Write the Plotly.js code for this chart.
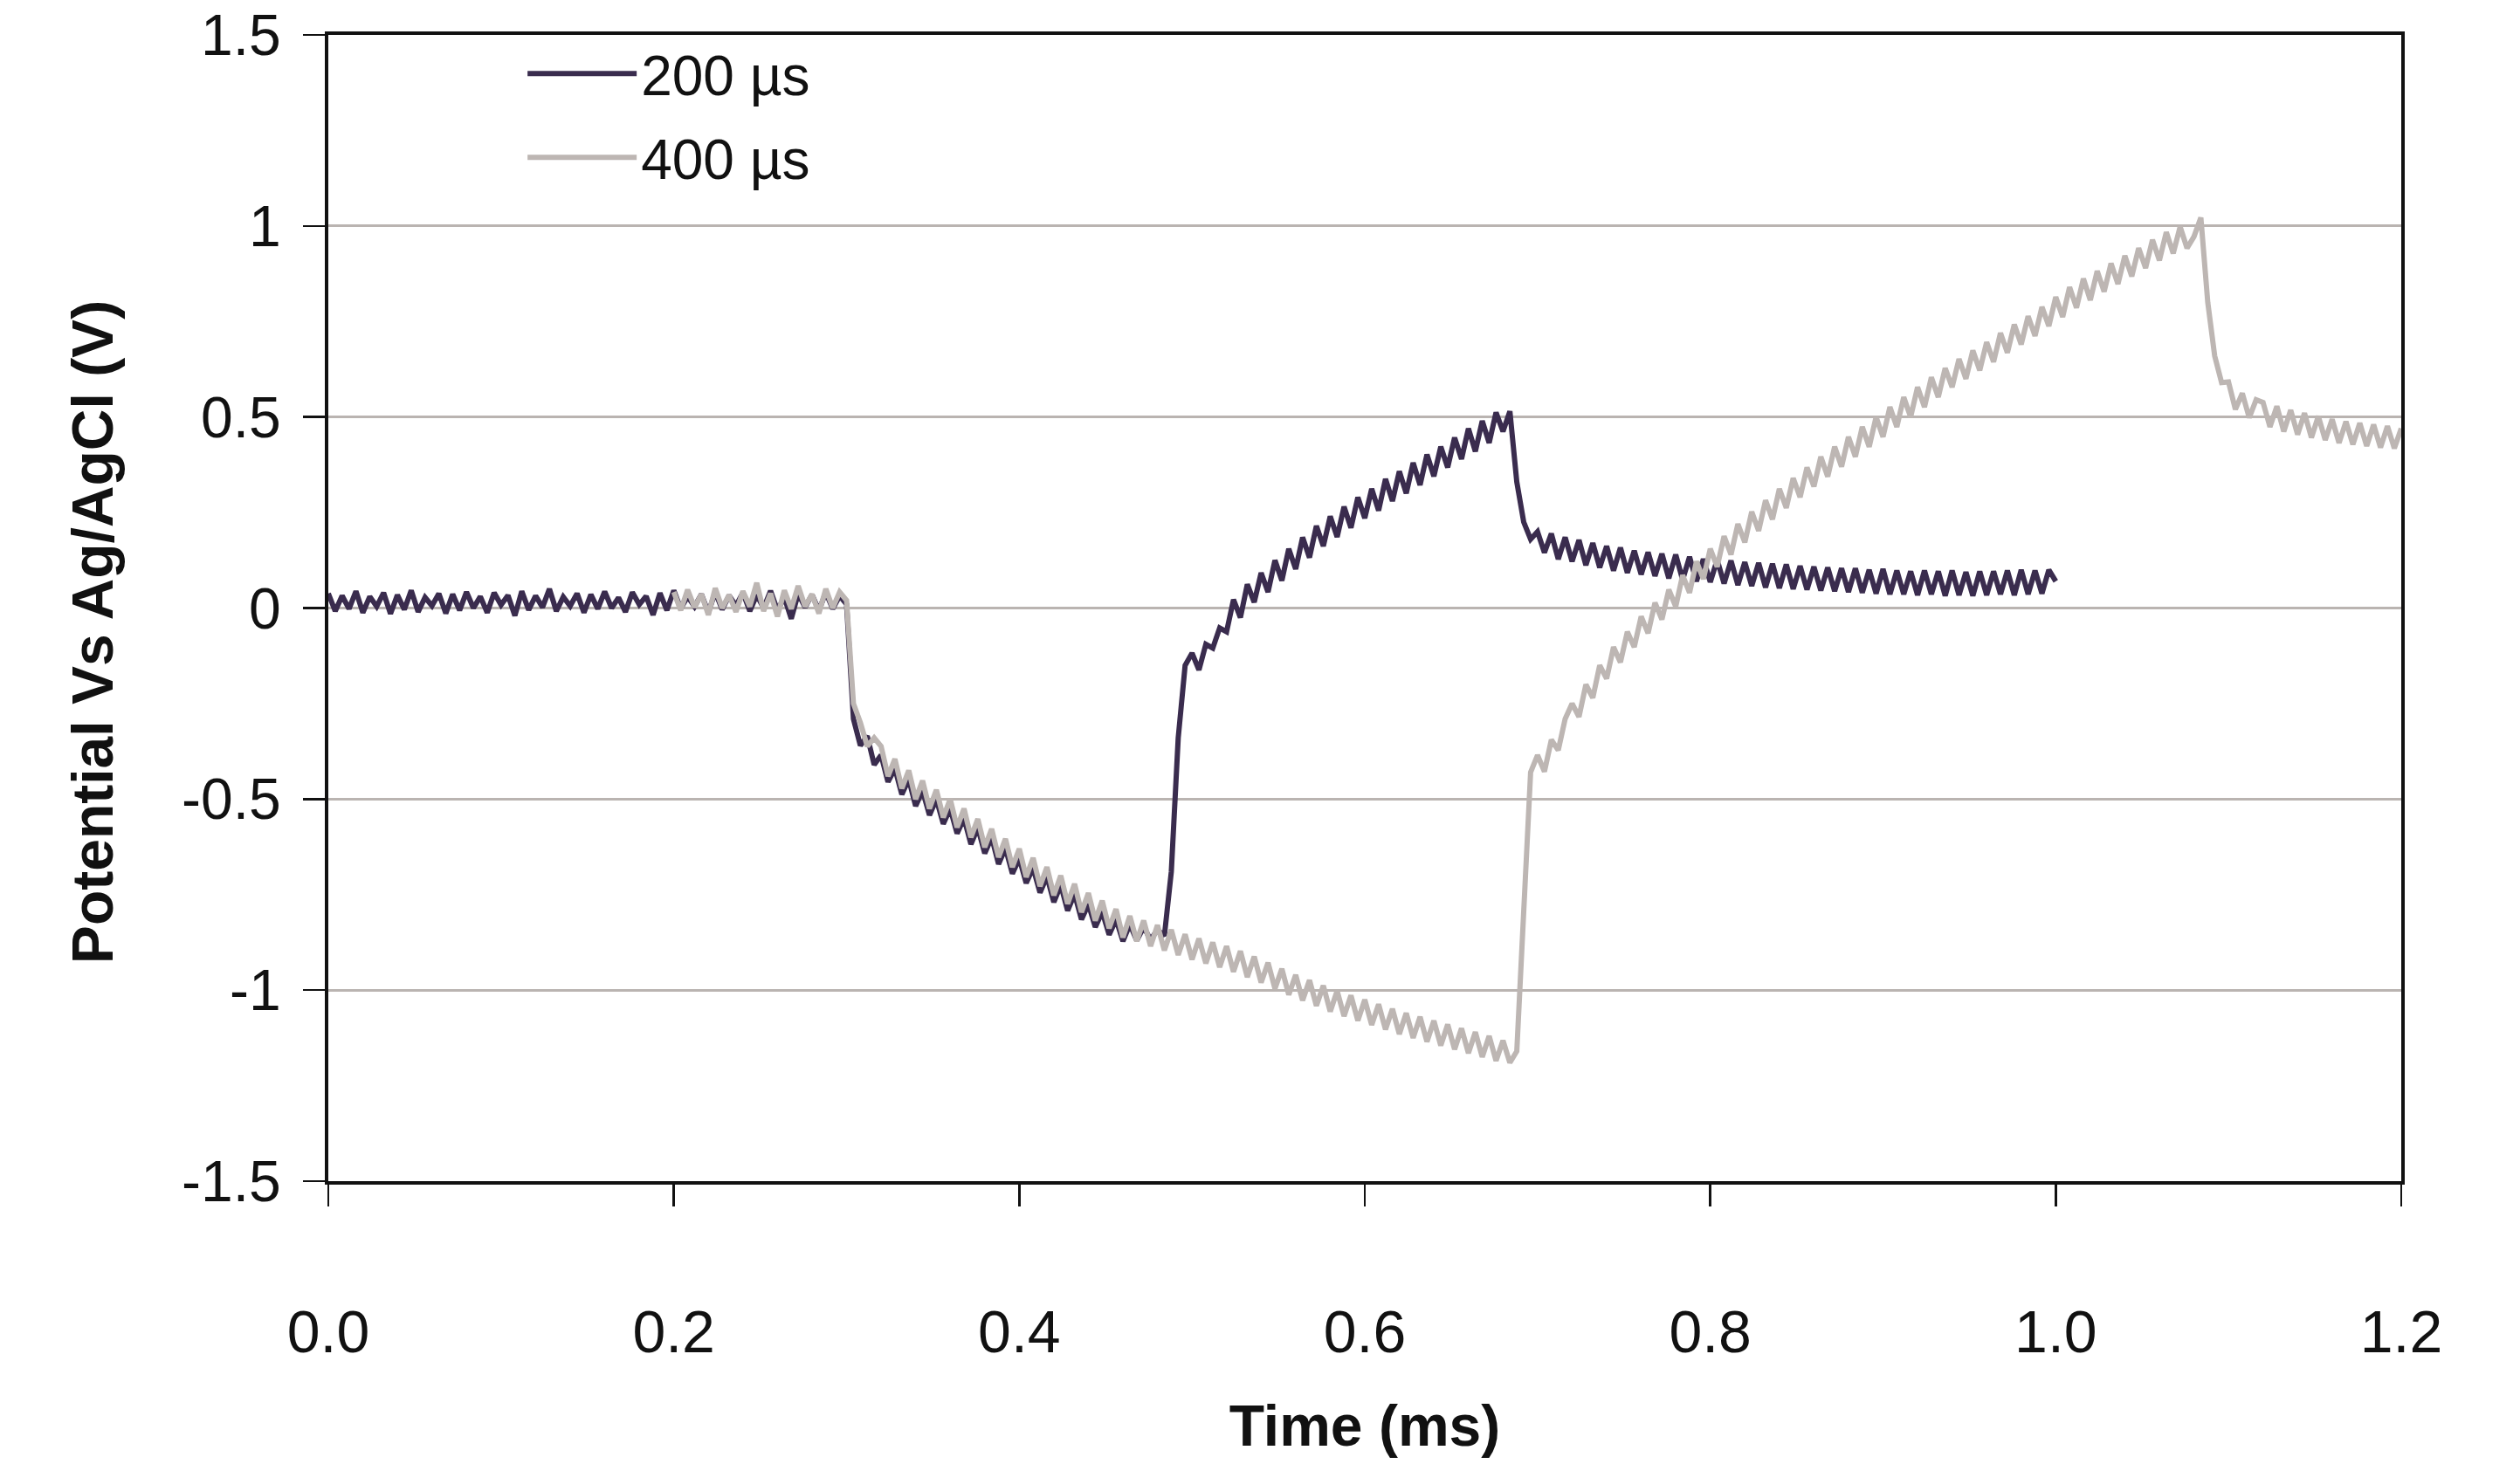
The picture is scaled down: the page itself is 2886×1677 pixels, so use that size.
<!DOCTYPE html>
<html>
<head>
<meta charset="utf-8">
<script src="https://cdn.plot.ly/plotly-3.0.1.min.js"></script>
<style>html,body{margin:0;padding:0;background:#fff;}#chart{width:2886px;height:1677px;}</style>
</head>
<body>
<div id="chart"></div>
<script>
// Sampling of the recorded traces (ms)
const sampleStep = 0.004;
const start200 = 0.0;
const start400 = 0.2;

// 200 µs trace, potential in mV, one value every 0.004 ms from t = 0
const pot200mV = [
  38, -8, 32, -2, 44, -12, 30, 4, 40, -15,
  34, -4, 46, -10, 28, 6, 38, -14, 36, -6,
  42, 0, 30, -12, 40, 8, 33, -20, 44, -5,
  32, 2, 50, -8, 29, 5, 38, -12, 35, -2,
  43, 0, 27, -10, 41, 9, 31, -18, 39, -6,
  46, -2, 30, 4, 36, -12, 42, -4, 33, 6,
  40, -8, 34, 0, 45, -6, 28, -28, 38, 2,
  35, -7, 41, -2, 32, 10, -290, -360, -335, -410,
  -385, -455, -420, -488, -448, -518, -478, -542, -500, -565,
  -525, -590, -550, -618, -575, -642, -600, -670, -628, -695,
  -655, -720, -680, -745, -702, -770, -725, -792, -748, -815,
  -775, -835, -795, -855, -815, -872, -828, -870, -835, -868,
  -842, -858, -690, -340, -150, -118, -162, -95, -105, -52,
  -62, 22, -25, 62, 15, 92, 42, 125, 72, 155,
  102, 185, 132, 215, 162, 240, 186, 265, 210, 290,
  235, 312, 255, 338, 280, 358, 300, 380, 322, 402,
  345, 422, 368, 446, 390, 470, 410, 490, 432, 512,
  462, 515, 330, 225, 180, 200, 145, 195, 128, 185,
  122, 178, 112, 170, 106, 162, 98, 158, 92, 150,
  88, 146, 84, 142, 78, 140, 74, 134, 70, 128,
  68, 126, 64, 124, 60, 120, 58, 118, 54, 116,
  52, 114, 50, 110, 48, 108, 46, 106, 44, 104,
  42, 104, 40, 100, 38, 102, 36, 98, 36, 96,
  34, 98, 36, 96, 32, 98, 34, 94, 32, 96,
  34, 96, 36, 98, 34, 100, 36, 98, 38, 100,
  70
];

// 400 µs trace, potential in mV, one value every 0.004 ms from t = 0.2
const pot400mV = [
  42, -6, 48, 2, 36, -18, 52, 0, 34, -10,
  44, 4, 66, -8, 38, -22, 46, -2, 58, 4,
  36, -14, 50, 0, 42, 20, -250, -300, -362, -340,
  -362, -440, -395, -472, -425, -500, -452, -525, -476, -548,
  -500, -574, -525, -600, -552, -626, -578, -652, -604, -678,
  -630, -704, -654, -728, -678, -752, -700, -774, -722, -796,
  -746, -818, -766, -838, -788, -862, -806, -872, -818, -885,
  -830, -896, -842, -908, -854, -920, -865, -930, -875, -940,
  -885, -952, -898, -966, -912, -980, -928, -996, -944, -1012,
  -960, -1027, -974, -1041, -988, -1056, -1002, -1068, -1014, -1080,
  -1025, -1091, -1037, -1103, -1049, -1115, -1060, -1125, -1070, -1135,
  -1080, -1145, -1090, -1155, -1100, -1165, -1110, -1175, -1120, -1185,
  -1132, -1190, -1160, -780, -430, -385, -428, -345, -372, -290,
  -250, -285, -200, -235, -150, -185, -102, -142, -62, -102,
  -22, -66, 14, -30, 48, 4, 86, 40, 122, 76,
  155, 108, 188, 140, 220, 172, 252, 202, 282, 232,
  312, 262, 340, 290, 368, 318, 396, 344, 422, 370,
  448, 396, 474, 422, 500, 448, 526, 474, 552, 500,
  578, 526, 604, 552, 628, 578, 652, 600, 674, 622,
  696, 644, 720, 668, 742, 690, 764, 712, 788, 738,
  814, 762, 840, 786, 862, 806, 882, 828, 902, 848,
  922, 868, 942, 890, 964, 910, 984, 928, 998, 942,
  972, 1022, 800, 660, 590, 592, 520, 562, 498, 545,
  538, 474, 528, 462, 518, 454, 510, 446, 502, 440,
  494, 432, 488, 428, 484, 424, 480, 420, 476, 418,
  470
];

const seriesNames = ['200 µs', '400 µs'];
const xTickVals = [0, 0.2, 0.4, 0.6, 0.8, 1.0, 1.2];
const xTickText = ['0.0', '0.2', '0.4', '0.6', '0.8', '1.0', '1.2'];
const yTickVals = [-1.5, -1, -0.5, 0, 0.5, 1, 1.5];
const yTickText = ['-1.5', '-1', '-0.5', '0', '0.5', '1', '1.5'];

const toVolt = a => a.map(v => v / 1000);

const FONT = 'Liberation Sans, Arial, Helvetica, sans-serif';

const traces = [
  {
    type: 'scatter', mode: 'lines', name: seriesNames[0],
    x0: start200, dx: sampleStep, y: toVolt(pot200mV),
    line: {color: '#3a2c4e', width: 6},
    legendgroup: 'a'
  },
  {
    type: 'scatter', mode: 'lines', name: seriesNames[1],
    x0: start400, dx: sampleStep, y: toVolt(pot400mV),
    line: {color: '#bdb6b3', width: 6},
    legendgroup: 'b'
  }
];

const layout = {
  width: 2886, height: 1677,
  margin: {l: 376, r: 136, t: 40, b: 324, pad: 0},
  paper_bgcolor: '#ffffff', plot_bgcolor: '#ffffff',
  font: {family: FONT, color: '#111111', size: 62},
  showlegend: true,
  legend: {
    x: 0.094, y: 1.003, xanchor: 'left', yanchor: 'top',
    bgcolor: 'rgba(0,0,0,0)', borderwidth: 0,
    font: {family: FONT, size: 64, color: '#111111'},
    itemwidth: 125, tracegroupgap: 10
  },
  xaxis: {
    range: [0, 1.2],
    tickvals: xTickVals, ticktext: xTickText,
    ticks: 'outside', ticklen: 25, tickwidth: 2.5, tickcolor: '#111111',
    showline: true, linecolor: '#111111', linewidth: 4, mirror: true,
    showgrid: false, zeroline: false,
    tickfont: {family: FONT, size: 68, color: '#111111'},
    ticklabelstandoff: 85,
    ticklabeloverflow: 'allow',
    title: {text: '<b>Time (ms)</b>', font: {family: FONT, size: 66, color: '#111111'}, standoff: 49}
  },
  yaxis: {
    range: [-1.5, 1.5],
    tickvals: yTickVals, ticktext: yTickText,
    ticks: 'outside', ticklen: 25, tickwidth: 2.5, tickcolor: '#111111',
    showline: true, linecolor: '#111111', linewidth: 4, mirror: true,
    showgrid: true, gridcolor: '#bab4b1', gridwidth: 3,
    zeroline: false,
    tickfont: {family: FONT, size: 66, color: '#111111'},
    ticklabelstandoff: 12,
    ticklabeloverflow: 'allow',
    title: {text: '<b>Potential Vs Ag/AgCl (V)</b>&nbsp;&nbsp;&nbsp;', font: {family: FONT, size: 66, color: '#111111'}, standoff: 58}
  }
};

Plotly.newPlot('chart', traces, layout, {displayModeBar: false, staticPlot: true});
</script>
</body>
</html>
